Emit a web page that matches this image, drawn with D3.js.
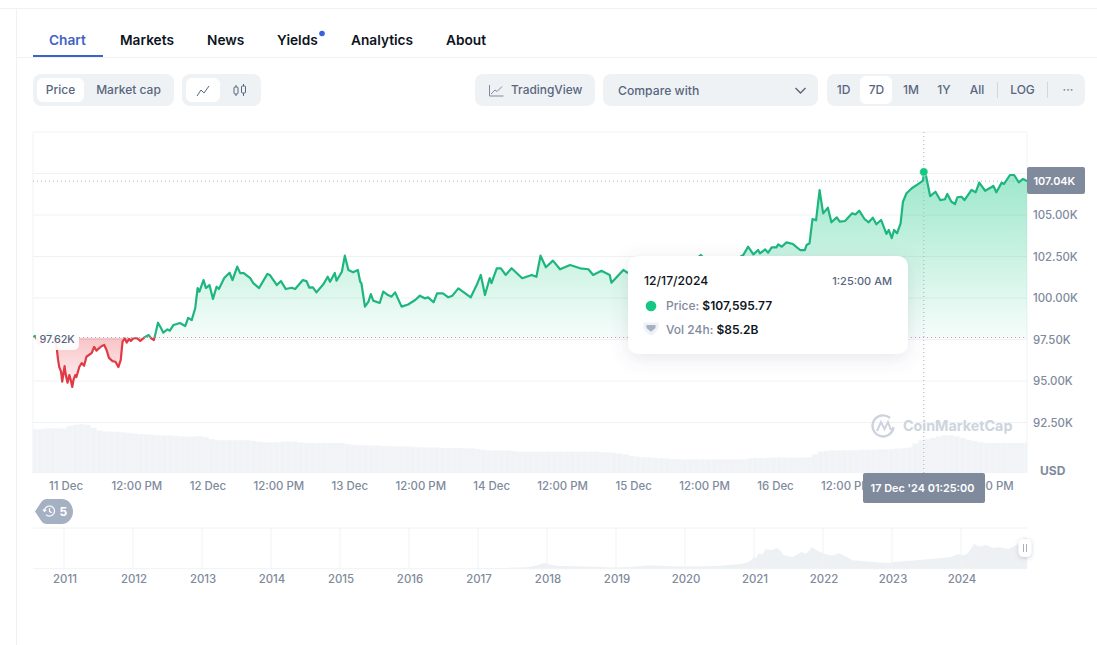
<!DOCTYPE html>
<html>
<head>
<meta charset="utf-8">
<title>Bitcoin price chart</title>
<script src="https://cdnjs.cloudflare.com/ajax/libs/d3/7.8.5/d3.min.js"></script>
<style>
  html, body { margin: 0; padding: 0; background: #fff; }
  svg { display: block; font-family: Inter, "Noto Sans", sans-serif; }
  text { font-family: Inter, "Noto Sans", sans-serif; }
  .axis path, .axis line { display: none; }
  .axis text { fill: #808a9d; font-size: 11.4px; font-weight: 500; }
</style>
</head>
<body>
<svg id="chart" width="1097" height="645"></svg>
<script>
// Hours since 11 Dec 2024 00:00, and BTC price in thousands of USD at those times
const priceHours = [-5.2,-4.9,-4.1,-3.2,-2.4,-1.7,-1.2,-1.0,-0.8,-0.5,-0.3,0.1,0.3,0.6,0.9,1.1,1.4,1.6,1.9,2.1,2.6,3.0,3.4,3.8,4.7,5.1,5.5,5.8,6.4,6.8,7.2,7.6,8.2,8.7,9.2,9.6,9.9,10.3,10.6,11.0,11.3,11.7,12.3,12.9,13.6,14.3,14.7,15.2,15.5,15.9,16.4,16.8,17.5,17.9,18.5,19.1,19.6,20.5,21.0,21.6,22.2,22.6,22.9,23.6,24.0,24.6,25.2,25.8,26.2,27.1,28.0,28.5,29.3,29.8,30.4,31.5,32.0,33.0,34.4,34.8,36.0,36.7,37.5,38.5,39.1,40.4,41.0,41.5,42.1,42.7,43.9,44.6,45.0,45.8,46.1,47.0,47.5,48.1,48.9,49.7,50.1,50.3,50.9,51.5,51.9,52.3,53.4,54.0,54.8,55.4,56.0,57.1,58.2,59.4,60.2,61.0,61.6,62.5,63.1,64.1,65.0,65.7,66.7,68.8,69.8,70.5,71.2,72.0,72.3,73.2,73.9,74.7,75.7,76.6,77.5,79.1,79.9,80.6,81.5,82.7,83.9,85.6,87.3,88.7,89.5,90.9,92.3,92.6,94.6,95.3,97.4,99.1,100.8,102.5,104.2,105.9,107.1,107.7,108.4,110.1,111.8,113.5,114.9,115.7,116.6,117.4,117.7,118.6,119.1,119.7,120.5,120.8,121.4,122.2,123.3,124.5,125.3,125.6,126.1,126.6,127.2,127.8,128.4,129.2,129.8,130.7,131.2,132.1,133.3,133.9,134.5,135.4,136.1,136.8,137.4,138.2,139.1,139.5,140.0,140.4,140.9,141.5,141.9,142.5,143.4,144.5,145.3,145.42,145.8,146.5,147.4,148.2,149.0,149.4,150.1,150.7,151.1,151.8,152.3,153.5,154.2,154.8,155.8,157.2,157.7,158.6,159.0,160.0,160.7,161.5,162.2,162.9];
const priceValues = [97.65,97.71,97.23,97.71,97.95,97.77,96.87,96.27,95.84,95.56,94.96,95.90,95.36,94.90,95.36,95.12,94.64,95.06,95.36,95.24,95.86,96.08,95.92,96.46,96.69,97.05,96.83,96.93,97.11,97.17,96.87,96.39,96.20,96.16,95.84,96.27,97.37,97.57,97.31,97.53,97.41,97.56,97.59,97.41,97.63,97.77,97.59,97.47,97.89,98.51,98.19,97.91,98.11,98.03,98.37,98.43,98.49,98.31,98.80,98.67,99.40,100.60,100.38,101.08,100.60,100.78,99.94,100.68,100.54,101.20,101.52,101.08,101.89,101.50,101.50,101.20,100.90,100.60,101.45,101.39,100.78,101.02,100.54,100.62,100.54,101.08,101.02,100.62,100.64,100.34,100.84,101.28,100.98,101.51,101.04,101.58,102.55,101.69,101.55,101.69,100.98,100.89,99.48,99.78,100.24,99.84,99.70,100.39,100.18,100.08,100.34,99.48,99.61,99.88,100.14,99.98,100.04,99.74,100.28,100.28,100.04,100.14,100.58,100.04,100.78,101.39,100.18,101.19,100.89,101.79,101.79,101.39,101.79,101.49,101.19,101.39,101.28,102.55,101.85,102.25,101.73,101.99,101.79,101.73,101.39,101.64,101.39,100.92,101.69,101.52,101.69,101.45,101.81,101.57,101.99,102.17,102.41,102.59,102.35,101.99,102.17,102.29,102.59,103.09,102.63,102.89,102.69,102.93,102.73,103.05,103.05,103.23,103.09,103.35,103.25,102.89,102.89,103.19,103.30,104.76,104.68,106.50,105.10,105.44,104.56,104.86,104.60,104.64,105.10,105.04,105.26,104.76,104.56,104.84,104.44,104.70,103.86,104.10,103.60,104.10,103.90,104.50,105.80,106.31,106.61,106.87,107.07,107.59577,107.37,106.14,106.40,105.90,105.95,106.27,105.80,105.66,106.07,106.10,105.90,106.51,106.37,106.95,106.46,106.75,106.37,106.95,106.87,107.41,107.41,106.97,107.17,107.04];
const baselinePrice = 97.62;
const hoverHour = 145.42;
const hoverPrice = 107.59577;
const hoverVolume = 85.2;

// Hourly 24h volume in billions of USD, starting at hour -5
const volumeStartHour = -5;
const volumeValues = [114,114,115,116,116,115,122,125,127,125,117,110,108,107,107,106,104,102,101,100,99,98,97,97,96,95,94,95,96,93,88,85,85,85,85,85,85,83,81,80,79,80,81,82,81,79,78,78,78,78,78,78,78,75,73,72,72,71,71,70,70,69,69,69,68,67,66,66,66,65,65,65,65,64,64,62,60,58,58,58,58,57,55,55,55,55,55,55,55,55,55,55,55,55,55,55,54,53,52,50,48,44,42,41,40,39,38,37,36,36,35,35,35,35,35,35,35,35,35,35,35,38,39,39,39,40,40,40,40,40,40,41,48,55,57,58,58,59,59,59,60,60,60,61,61,62,63,64,66,76,85.2,88,91,95,98,98,95,91,86,83,80,78,78,78,78,78,78,78,78];

// Long-range overview: calendar year and price in thousands of USD
const overviewYears = [2011,2011.5,2012,2012.5,2013,2013.3,2013.9,2014.2,2015,2015.5,2016,2016.5,2017,2017.4,2017.7,2017.85,2017.96,2018.05,2018.15,2018.4,2018.7,2018.95,2019.2,2019.48,2019.8,2020.2,2020.5,2020.8,2020.93,2021.0,2021.03,2021.07,2021.12,2021.17,2021.25,2021.33,2021.38,2021.43,2021.55,2021.62,2021.68,2021.76,2021.84,2021.9,2021.96,2022.03,2022.13,2022.23,2022.32,2022.43,2022.59,2022.78,2022.97,2023.02,2023.18,2023.35,2023.52,2023.71,2023.85,2023.96,2024.03,2024.1,2024.19,2024.27,2024.36,2024.46,2024.57,2024.68,2024.81,2024.91,2024.96];
const overviewPrices = [0,0.1,0,0.1,0.1,0.3,1,0.6,0.3,0.3,0.4,0.6,1,2.4,4.2,10,18,13,9,7.5,6.5,3.7,5,11,8,7,9.5,15,22,37,33,49,45,62,58,65,58,43,37,44,53,48,68,60,53,46,42,49,40,27,24,20,18,21,24,27,30,34,37,46,42,49,78,70,75,66,68,62,75,97,97];

// Tick values and labels
const priceTicks = [92.5,95,97.5,100,102.5,105];
const timeTickHours = [0,12,24,36,48,60,72,84,96,108,120,132,156];
const timeTickLabels = ["11 Dec","12:00 PM","12 Dec","12:00 PM","13 Dec","12:00 PM","14 Dec","12:00 PM","15 Dec","12:00 PM","16 Dec","12:00 PM","12:00 PM"];
const yearTicks = [2011,2012,2013,2014,2015,2016,2017,2018,2019,2020,2021,2022,2023,2024];
const tabLabels = ["Chart","Markets","News","Yields","Analytics","About"];
const rangeLabels = ["1D","7D","1M","1Y","All","LOG"];

const GREY = "#808a9d", SLATE = "#58667e", INK = "#0d1421", RULE = "#eff2f5", PILL = "#eff2f5";
const GREEN = "#1db67f", RED = "#e03a44", BLUE = "#3f62c6";

const svg = d3.select("#chart");
const defs = svg.append("defs");

const plot = { left: 33, right: 1027, top: 132, bottom: 473 };
const x = d3.scaleLinear().domain([-5.243, 162.88]).range([plot.left, plot.right]);
const y = d3.scaleLinear().domain([92.5, 110]).range([422.5, 132]);
const volumeY = d3.scaleLinear().domain([0, 130]).range([plot.bottom, plot.bottom - 50]);
const yearX = d3.scaleLinear().domain([2011, 2024]).range([64, 961]);
const overviewY = d3.scaleLinear().domain([0, 100]).range([568.7, 537]);
const points = priceHours.map((h, i) => ({ h, p: priceValues[i] }));
const baseY = y(baselinePrice);

/* ---------- gradients, clips and shadow ---------- */
function verticalGradient(id, y1, y2, stops) {
  const g = defs.append("linearGradient").attr("id", id)
    .attr("gradientUnits", "userSpaceOnUse")
    .attr("x1", 0).attr("x2", 0).attr("y1", y1).attr("y2", y2);
  stops.forEach(s => g.append("stop").attr("offset", s[0]).attr("stop-color", s[1]).attr("stop-opacity", s[2]));
}
verticalGradient("upFill", y(107.5), baseY, [[0, "#16c784", 0.42], [1, "#16c784", 0.04]]);
verticalGradient("downFill", baseY, y(94.6), [[0, "#ea3943", 0.3], [1, "#ea3943", 0.06]]);

defs.append("clipPath").attr("id", "aboveBase").append("rect")
  .attr("x", plot.left).attr("y", plot.top).attr("width", plot.right - plot.left).attr("height", baseY - plot.top);
defs.append("clipPath").attr("id", "belowBase").append("rect")
  .attr("x", plot.left).attr("y", baseY).attr("width", plot.right - plot.left).attr("height", plot.bottom - baseY);

const shadow = defs.append("filter").attr("id", "cardShadow")
  .attr("x", "-15%").attr("y", "-25%").attr("width", "130%").attr("height", "160%");
shadow.append("feDropShadow").attr("dx", 0).attr("dy", 4).attr("stdDeviation", 9)
  .attr("flood-color", "#58667e").attr("flood-opacity", 0.16);
const knobShadow = defs.append("filter").attr("id", "knobShadow")
  .attr("x", "-60%").attr("y", "-40%").attr("width", "220%").attr("height", "180%");
knobShadow.append("feDropShadow").attr("dx", 0).attr("dy", 1).attr("stdDeviation", 2)
  .attr("flood-color", "#58667e").attr("flood-opacity", 0.3);

/* ---------- page frame and tabs ---------- */
const rule = (x1, y1, x2, y2, c = RULE) => svg.append("line")
  .attr("x1", x1).attr("y1", y1).attr("x2", x2).attr("y2", y2).attr("stroke", c).attr("stroke-width", 1);
rule(0, 8.5, 1097, 8.5);
rule(16.5, 8, 16.5, 645);
rule(16, 57.5, 1097, 57.5);

const tabX = [49, 120, 207, 277, 351, 446];
tabLabels.forEach((t, i) => {
  svg.append("text").attr("x", tabX[i]).attr("y", 45)
    .attr("font-size", 13.7).attr("font-weight", 600)
    .attr("fill", i === 0 ? BLUE : INK).text(t);
});
svg.append("rect").attr("x", 33).attr("y", 55).attr("width", 70).attr("height", 2).attr("fill", BLUE);
svg.append("circle").attr("cx", 322).attr("cy", 33.5).attr("r", 2.8).attr("fill", "#3861e0");

/* ---------- toolbar ---------- */
const box = (bx, by, w, h, r, c) => svg.append("rect")
  .attr("x", bx).attr("y", by).attr("width", w).attr("height", h).attr("rx", r).attr("fill", c);
const label = (lx, ly, s, size = 12, weight = 500, c = SLATE, anchor = "middle") => svg.append("text")
  .attr("x", lx).attr("y", ly).attr("font-size", size).attr("font-weight", weight)
  .attr("fill", c).attr("text-anchor", anchor).text(s);

box(33, 74, 141, 32, 8, PILL);
box(37, 78, 47, 24, 6, "#fff");
label(60.5, 94, "Price");
label(128.5, 94, "Market cap");

box(182, 74, 79, 32, 8, PILL);
box(186, 78, 34, 24, 6, "#fff");
svg.append("path").attr("d", "M197 96l4-6 3 3 5-7").attr("fill", "none").attr("stroke", SLATE).attr("stroke-width", 1);
svg.append("path").attr("d", "M236 85v2M236 94v2M243.5 84v2M243.5 93v3").attr("stroke", SLATE).attr("stroke-width", 1);
svg.append("rect").attr("x", 234).attr("y", 87).attr("width", 4).attr("height", 7).attr("rx", 1).attr("fill", "none").attr("stroke", SLATE);
svg.append("rect").attr("x", 241.5).attr("y", 86).attr("width", 4).attr("height", 7).attr("rx", 1).attr("fill", "none").attr("stroke", SLATE);

box(475, 74, 120, 32, 8, PILL);
svg.append("path").attr("d", "M489.5 85v11h14M491 94l4-4 2 1.5 5-5").attr("fill", "none").attr("stroke", GREY).attr("stroke-width", 1);
label(511, 94, "TradingView", 11.9, 500, SLATE, "start");

box(603, 74, 215, 32, 8, PILL);
label(618, 95, "Compare with", 12.2, 500, SLATE, "start");
svg.append("path").attr("d", "M795.5 88l5 5 5-5").attr("fill", "none").attr("stroke", SLATE).attr("stroke-width", 1.4);

box(827, 74, 258, 32, 8, PILL);
box(860, 76, 32, 28, 6, "#fff");
const rangeX = [843.5, 876.5, 911, 944, 977, 1022.5];
rangeLabels.forEach((t, i) => label(rangeX[i], 94, t));
rule(997.5, 82, 997.5, 98, "#cfd6e4");
rule(1047.5, 82, 1047.5, 98, "#cfd6e4");
label(1068, 94, "···", 12, 500, GREY);

/* ---------- price plot ---------- */
const grid = svg.append("g");
grid.selectAll("line").data(priceTicks.concat([107.5, 110])).join("line")
  .attr("x1", plot.left).attr("x2", plot.right)
  .attr("y1", d => y(d)).attr("y2", d => y(d))
  .attr("stroke", RULE).attr("stroke-width", 1);
rule(plot.left, plot.top, plot.left, plot.bottom);
rule(plot.right, plot.top, plot.right, plot.bottom);

// 24h volume bars along the bottom of the plot
const barWidth = x(1) - x(0);
svg.append("g").selectAll("rect").data(volumeValues).join("rect")
  .attr("x", (d, i) => Math.max(plot.left, x(volumeStartHour + i) - barWidth / 2))
  .attr("width", (d, i) => {
    const c = x(volumeStartHour + i);
    return Math.max(0, Math.min(plot.right, c + barWidth / 2) - Math.max(plot.left, c - barWidth / 2));
  })
  .attr("y", d => volumeY(d))
  .attr("height", d => plot.bottom - volumeY(d))
  .attr("fill", "#f1f3f6").attr("stroke", "#f5f7f9").attr("stroke-width", 0.4);

// Area and line, split into rising and falling parts at the opening price
const area = d3.area().x(d => x(d.h)).y0(baseY).y1(d => y(d.p));
const line = d3.line().x(d => x(d.h)).y(d => y(d.p));

svg.append("path").datum(points).attr("d", area).attr("fill", "url(#upFill)").attr("clip-path", "url(#aboveBase)");
svg.append("path").datum(points).attr("d", area).attr("fill", "url(#downFill)").attr("clip-path", "url(#belowBase)");

const dotted = (x1, y1, x2, y2) => svg.append("line")
  .attr("x1", x1).attr("y1", y1).attr("x2", x2).attr("y2", y2)
  .attr("stroke", "#a6b0c3").attr("stroke-width", 1).attr("stroke-dasharray", "1 3");
dotted(79, baseY, plot.right, baseY);
dotted(plot.left, y(priceValues[priceValues.length - 1]), plot.right, y(priceValues[priceValues.length - 1]));
dotted(x(hoverHour), plot.top, x(hoverHour), plot.bottom);

svg.append("path").datum(points).attr("d", line).attr("fill", "none").attr("stroke", GREEN)
  .attr("stroke-width", 2.2).attr("stroke-linejoin", "round").attr("clip-path", "url(#aboveBase)");
svg.append("path").datum(points).attr("d", line).attr("fill", "none").attr("stroke", RED)
  .attr("stroke-width", 2.2).attr("stroke-linejoin", "round").attr("clip-path", "url(#belowBase)");

svg.append("circle").attr("cx", x(hoverHour)).attr("cy", y(hoverPrice)).attr("r", 4.2)
  .attr("fill", "#16c784").attr("stroke", "#fff").attr("stroke-opacity", 0.5).attr("stroke-width", 1);

/* ---------- axes ---------- */
svg.append("g").attr("class", "axis").attr("transform", `translate(${plot.right + 6},0)`)
  .call(d3.axisRight(y).tickValues(priceTicks).tickSize(0).tickPadding(0).tickFormat(d => d3.format(".2f")(d) + "K"));

const timeAxis = svg.append("g").attr("class", "axis").attr("transform", "translate(1.5,482)")
  .call(d3.axisBottom(x).tickValues(timeTickHours).tickSize(0).tickPadding(0)
    .tickFormat((d, i) => timeTickLabels[i]));
timeAxis.selectAll("text").attr("dy", "0.71em");

label(1040, 474.5, "USD", 12, 700, GREY, "start");

/* ---------- left opening-price tag ---------- */
box(36, 330, 43, 20, 5, "#fff").attr("fill-opacity", 0.93);
label(39.5, 343, d3.format(".2f")(baselinePrice) + "K", 10.8, 500, SLATE, "start");

/* ---------- watermark ---------- */
const mark = svg.append("g").attr("fill", "none").attr("stroke", "#cdd3de").attr("stroke-width", 2.4);
mark.append("path").attr("d", "M893.5 427a10.5 10.5 0 1 1 -3.5 -9");
mark.append("path").attr("d", "M877 431l4 -9 3.5 7 3.5 -7 2.5 7 3 1").attr("stroke-width", 2);
label(903, 431, "CoinMarketCap", 14.3, 700, "#ced4de", "start");

/* ---------- current price and hover date tags ---------- */
box(1027, 167, 58, 27, 2, GREY);
label(1033.5, 185, d3.format(".2f")(priceValues[priceValues.length - 1]) + "K", 10.9, 600, "#fff", "start");
box(863, 473, 122, 30, 2, GREY);
label(922.5, 492, "17 Dec '24 01:25:00", 10.9, 600, "#fff");

/* ---------- tooltip ---------- */
box(628, 256, 280, 98, 10, "#fff").attr("filter", "url(#cardShadow)");
label(644, 285, "12/17/2024", 12.2, 500, INK, "start");
label(892, 285, "1:25:00 AM", 11, 500, SLATE, "end");
svg.append("circle").attr("cx", 651).attr("cy", 306).attr("r", 5.3).attr("fill", "#16c784");
const priceRow = svg.append("text").attr("x", 666).attr("y", 310).attr("font-size", 12);
priceRow.append("tspan").attr("fill", GREY).attr("font-weight", 500).text("Price: ");
priceRow.append("tspan").attr("fill", INK).attr("font-weight", 600).text("$" + d3.format(",.2f")(hoverPrice * 1000));
svg.append("path").attr("d", "M643.5 322.5h15v5q-1 5 -7.5 8 q-6.5 -3 -7.5 -8z").attr("fill", "#eff2f5");
svg.append("path").attr("d", "M646.5 325h9v3l-4.5 3.8l-4.5 -3.8z").attr("fill", "#a6b0c3");
const volRow = svg.append("text").attr("x", 666).attr("y", 334).attr("font-size", 12);
volRow.append("tspan").attr("fill", GREY).attr("font-weight", 500).text("Vol 24h: ");
volRow.append("tspan").attr("fill", INK).attr("font-weight", 600).text("$" + hoverVolume + "B");

/* ---------- history badge ---------- */
svg.append("path").attr("d", "M35 511.5l6 -9q2 -3.5 6 -3.5h15a11 12.5 0 0 1 0 25h-15q-4 0 -6 -3.5z").attr("fill", "#a6b0c3");
const clock = svg.append("g").attr("fill", "none").attr("stroke", "#fff").attr("stroke-width", 1.2);
clock.append("path").attr("d", "M44.5 511a5 5 0 1 1 1.5 3.6");
clock.append("path").attr("d", "M49.5 508v3.3l2.2 1.4M43 509.5l1.5 1.8l1.8 -1.5");
label(59.5, 515.5, "5", 12, 700, "#fff", "start");

/* ---------- long-range overview ---------- */
const overviewTop = 528, overviewBase = overviewY(0);
rule(plot.left, overviewTop, plot.right, overviewTop);
const overviewPoints = overviewYears.map((yr, i) => ({ yr, p: overviewPrices[i] }));
svg.append("path").datum(overviewPoints)
  .attr("d", d3.area().x(d => yearX(d.yr)).y0(overviewBase).y1(d => overviewY(d.p)))
  .attr("fill", "#eef1f4");
svg.append("g").selectAll("line").data(yearTicks).join("line")
  .attr("x1", d => yearX(d)).attr("x2", d => yearX(d))
  .attr("y1", overviewTop).attr("y2", overviewBase)
  .attr("stroke", RULE).attr("stroke-width", 1);
rule(plot.left, overviewBase, plot.right, overviewBase);

const yearAxis = svg.append("g").attr("class", "axis").attr("transform", "translate(0.5,575)")
  .call(d3.axisBottom(yearX).tickValues(yearTicks).tickSize(0).tickPadding(0).tickFormat(d3.format("d")));
yearAxis.selectAll("text").attr("dy", "0.71em");

box(1018.5, 539, 13, 18, 5, "#fff").attr("filter", "url(#knobShadow)");
svg.append("path").attr("d", "M1023.5 544v8M1026.5 544v8").attr("stroke", "#a6b0c3").attr("stroke-width", 1);
</script>
</body>
</html>
